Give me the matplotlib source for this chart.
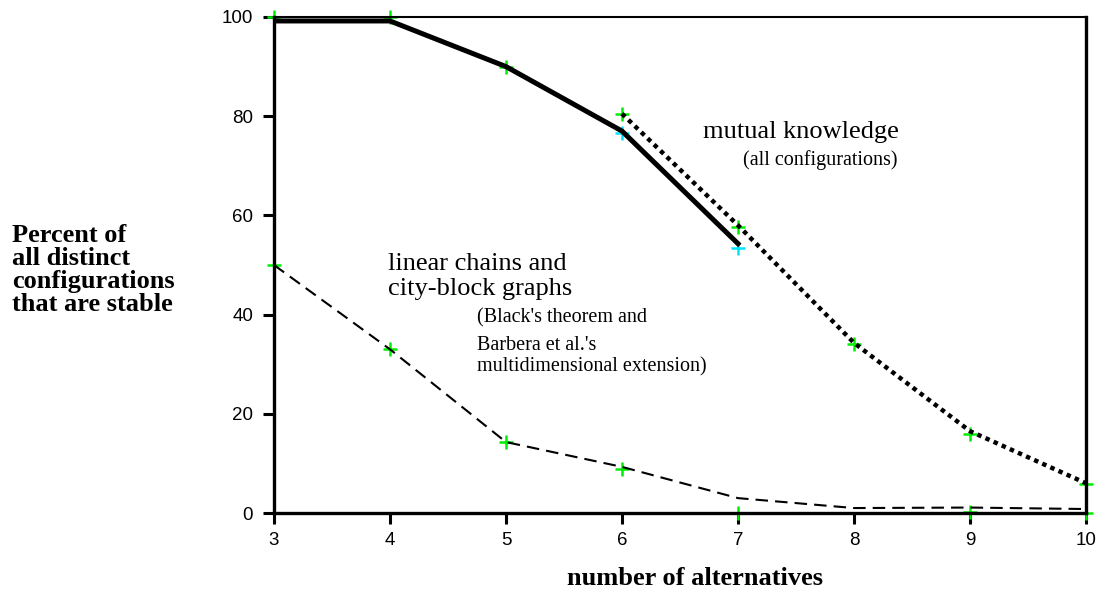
import matplotlib.pyplot as plt

# number of alternatives
alts = [3, 4, 5, 6, 7, 8, 9, 10]

# mutual knowledge (all configurations): measured points and dotted curve
mutual_pts = [100, 100, 90, 80.5, 57.7, 34, 16, 5.8]
mutual_alts = [6, 7, 8, 9, 10]
mutual_line = [80.5, 58, 34.3, 16.5, 6]

# solid curve and its cyan points
solid_alts = [3, 4, 5, 6, 7]
solid_line = [99.2, 99.2, 90, 77, 54.3]
solid_pt_alts = [6, 7]
solid_pts = [76.6, 53.5]

# linear chains / city-block graphs: dashed curve and points
chain_line = [50, 33, 14.3, 9.3, 3.0, 1.0, 1.1, 0.8]
chain_pt_alts = [3, 4, 5, 6, 7, 9, 10]
chain_pts = [50, 33, 14.3, 8.8, 0, 0.3, 0]

serif = 'Liberation Serif'
sans = 'Liberation Sans'

fig = plt.figure(figsize=(10.99, 5.9), dpi=100)
ax = fig.add_axes([0.2493, 0.1305, 0.7389, 0.8407])

# markers first, lines on top
ax.plot(alts, mutual_pts, ls='none', marker='+', ms=10, mew=1.8, color='#00ee00', zorder=2, clip_on=False)
ax.plot(chain_pt_alts, chain_pts, ls='none', marker='+', ms=10, mew=1.8, color='#00ee00', zorder=2, clip_on=False)
ax.plot(solid_pt_alts, solid_pts, ls='none', marker='+', ms=10, mew=1.8, color='#00e5ff', zorder=2, clip_on=False)

ax.plot(solid_alts, solid_line, color='black', lw=3.6, zorder=3, solid_joinstyle='miter')
ax.plot(mutual_alts, mutual_line, color='black', lw=3.2, dashes=(1, 1), dash_capstyle='butt', zorder=3)
ax.plot(alts, chain_line, color='black', lw=1.5, dashes=(6, 3.4), zorder=3)

ax.set_xlim(3, 10)
ax.set_ylim(0, 100)
ax.set_xticks(alts)
ax.set_yticks([0, 20, 40, 60, 80, 100])
ax.tick_params(direction='out', length=8, width=2.2, labelsize=13.5)
ax.tick_params(axis='x', pad=6)
ax.tick_params(axis='y', pad=7)
for lab in ax.get_xticklabels() + ax.get_yticklabels():
    lab.set_fontfamily(sans)
for s in ['left', 'right', 'bottom']:
    ax.spines[s].set_linewidth(2.4)
ax.spines['top'].set_linewidth(1.5)

fig.text(695 / 1099, 1 - 585 / 590, 'number of alternatives', fontfamily=serif, fontweight='bold',
         fontsize=19, ha='center', va='baseline')
fig.text(0.011, 1 - 311 / 590, 'Percent of\nall distinct\nconfigurations\nthat are stable',
         fontfamily=serif, fontweight='bold', fontsize=19, ha='left', va='baseline', linespacing=1.0)

ax.text(6.70, 75.6, 'mutual knowledge', fontfamily=serif, fontsize=19, ha='left', va='baseline')
ax.text(7.04, 70.2, '(all configurations)', fontfamily=serif, fontsize=14.5, ha='left', va='baseline')
ax.text(3.98, 49.0, 'linear chains and', fontfamily=serif, fontsize=19, ha='left', va='baseline')
ax.text(3.98, 44.0, 'city-block graphs', fontfamily=serif, fontsize=19, ha='left', va='baseline')
ax.text(4.75, 38.5, "(Black's theorem and", fontfamily=serif, fontsize=14.5, ha='left', va='baseline')
ax.text(4.75, 32.9, "Barbera et al.'s", fontfamily=serif, fontsize=14.5, ha='left', va='baseline')
ax.text(4.75, 28.6, 'multidimensional extension)', fontfamily=serif, fontsize=14.5, ha='left', va='baseline')

fig.savefig('out.png', dpi=100)
